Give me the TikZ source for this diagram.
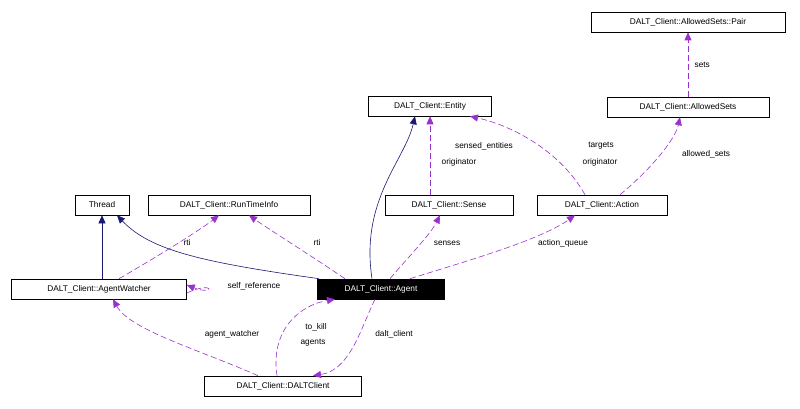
\documentclass[tikz,border=0pt]{standalone}
\usepackage{fontspec}
\setmainfont{Liberation Sans}
\usetikzlibrary{arrows.meta}
\begin{document}
\begin{tikzpicture}[x=1pt,y=-1pt,
    cls/.style={draw,semithick,minimum height=20pt,inner sep=0pt,
        font={\fontsize{8.3}{10}\selectfont}},
    lbl/.style={font={\fontsize{8.3}{10}\selectfont}},
    inh/.style={semithick,draw={rgb,255:red,25;green,25;blue,112},
        -{Triangle[length=8pt,width=7pt,fill={rgb,255:red,25;green,25;blue,112}]}},
    use/.style={semithick,draw={rgb,255:red,153;green,50;blue,204},
        dash pattern=on 6pt off 3pt,
        -{Triangle[length=8pt,width=7pt,fill={rgb,255:red,153;green,50;blue,204}]}}]
\useasboundingbox (0,0) rectangle (800,409);
% classes
\node[cls,minimum width=194pt] (pair) at (688,22) {DALT\_Client::AllowedSets::Pair};
\node[cls,minimum width=162pt] (sets) at (688,107) {DALT\_Client::AllowedSets};
\node[cls,minimum width=123pt] (entity) at (430,106) {DALT\_Client::Entity};
\node[cls,minimum width=54pt] (thread) at (102,205) {Thread};
\node[cls,minimum width=162pt] (rti) at (229,205) {DALT\_Client::RunTimeInfo};
\node[cls,minimum width=128pt] (sense) at (449,205) {DALT\_Client::Sense};
\node[cls,minimum width=130pt] (action) at (602,205) {DALT\_Client::Action};
\node[cls,minimum width=175pt] (watcher) at (99,289) {DALT\_Client::AgentWatcher};
\node[cls,minimum width=127pt,fill=black,text=white] (agent) at (381,289) {DALT\_Client::Agent};
\node[cls,minimum width=157pt] (dalt) at (283,386) {DALT\_Client::DALTClient};

% inheritance
\draw[inh] (watcher.north -| thread) -- (thread);
\draw[inh] ([xshift=2pt]agent.north west) .. controls (200,262) and (150,250) .. ([xshift=15pt]thread.south);
\draw[inh] ([xshift=-9pt]agent.north) .. controls (360,200) and (405,160) .. ([xshift=-15pt]entity.south);

% usage
\draw[use] (sets) -- (pair) node[lbl,pos=0.5,right=3pt] {sets};
\draw[use] (sense.north -| entity) -- (entity);
\node[lbl] at (484,146) {sensed\_entities};
\node[lbl] at (459,162) {originator};
\draw[use] ([xshift=-17pt]action.north) .. controls (560,150) and (510,125) .. ([xshift=40pt]entity.south);
\node[lbl] at (601,146) {targets};
\node[lbl] at (600,162) {originator};
\draw[use] ([xshift=18pt]action.north) .. controls (650,170) and (675,140) .. ([xshift=-8pt]sets.south);
\node[lbl] at (706,154) {allowed\_sets};
\draw[use] ([xshift=20pt]watcher.north) .. controls (160,255) and (200,230) .. ([xshift=-10pt]rti.south);
\node[lbl] at (187,243) {rti};
\draw[use] ([xshift=-36pt]agent.north) .. controls (310,255) and (270,230) .. ([xshift=20pt]rti.south);
\node[lbl] at (317,243) {rti};
\draw[use] ([xshift=9pt]agent.north) .. controls (410,255) and (430,235) .. ([xshift=-9pt]sense.south);
\node[lbl] at (447,243) {senses};
\draw[use] ([xshift=29pt]agent.north) .. controls (470,260) and (540,240) .. ([xshift=-27pt]action.south);
\node[lbl] at (563,243) {action\_queue};
\draw[use] ([yshift=-4pt]watcher.east) .. controls (215,280) and (215,296) .. ([yshift=4pt]watcher.east);
\node[lbl] at (254,286) {self\_reference};
\draw[use] ([xshift=-25pt]dalt.north) .. controls (200,350) and (130,330) .. ([xshift=14pt]watcher.south);
\node[lbl] at (232,334) {agent\_watcher};
\draw[use] ([xshift=-6pt]dalt.north) .. controls (270,330) and (300,305) .. ([xshift=-46pt]agent.south);
\node[lbl] at (316,327) {to\_kill};
\node[lbl] at (313,343) {agents};
\draw[use] ([xshift=-6pt]agent.south) .. controls (360,330) and (350,370) .. ([xshift=30pt]dalt.north);
\node[lbl] at (394,334) {dalt\_client};
\end{tikzpicture}
\end{document}
